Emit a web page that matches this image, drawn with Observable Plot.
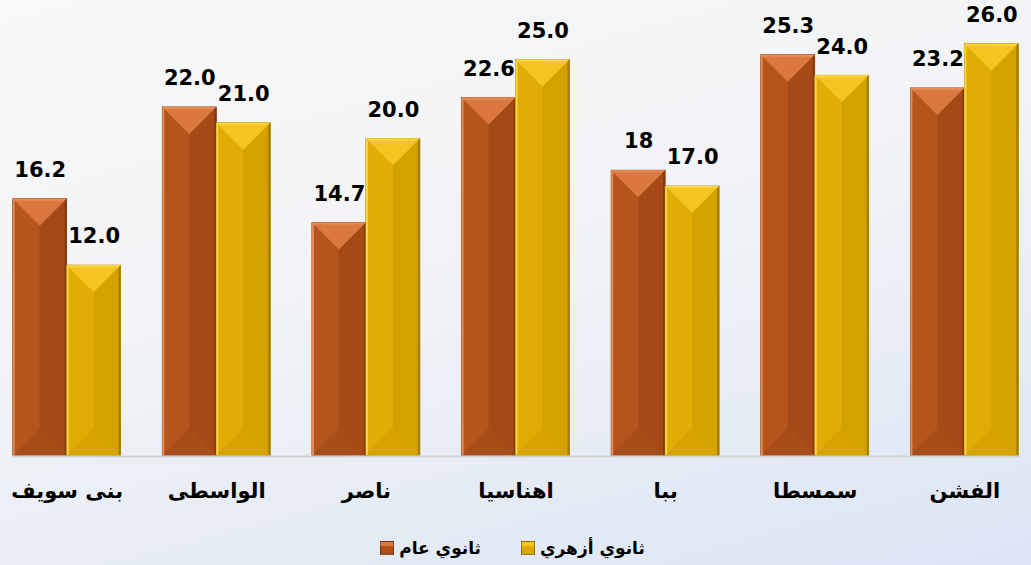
<!DOCTYPE html>
<html>
<head>
<meta charset="utf-8">
<script src="https://cdn.jsdelivr.net/npm/d3@7"></script>
<script src="https://cdn.jsdelivr.net/npm/@observablehq/plot@0.6"></script>
<style>
  html, body { margin: 0; padding: 0; }
  body {
    width: 1031px; height: 565px; overflow: hidden;
    background: linear-gradient(165deg, #f8f8f8 0%, #f1f3f6 45%, #dbe5f4 100%);
    font-family: "DejaVu Sans", "Noto Sans", sans-serif;
  }
  #chart svg { display: block; }
  #legend {
    display: flex; justify-content: center; align-items: center; gap: 40px;
    direction: ltr; height: 45px; margin-top: 5px; padding-right: 6px;
    font-weight: bold; font-size: 17px; color: #000;
  }
  .item { display: flex; align-items: center; gap: 5px; }
  .sw { width: 12px; height: 12px; border: 1px solid rgba(0,0,0,0.35); }
</style>
</head>
<body>
<div id="chart"></div>
<div id="legend"></div>
<script>
const categories = ["بنى سويف", "الواسطى", "ناصر", "اهناسيا", "ببا", "سمسطا", "الفشن"];
const seriesNames = ["ثانوي عام", "ثانوي أزهري"];
const generalValues = [16.2, 22.0, 14.7, 22.6, 18, 25.3, 23.2];
const azhariValues = [12.0, 21.0, 20.0, 25.0, 17.0, 24.0, 26.0];
const generalLabels = ["16.2", "22.0", "14.7", "22.6", "18", "25.3", "23.2"];
const azhariLabels = ["12.0", "21.0", "20.0", "25.0", "17.0", "24.0", "26.0"];
const seriesColors = ["#b0521b", "#dca806"];

// shading palettes per series: left, right, top, bottom, edge, highlight
const palettes = {
  "ثانوي عام": {L: "#b5541c", R: "#a54a16", T: "#db7840", B: "#a94d18", E: "#84390f", H: "#e58c58"},
  "ثانوي أزهري": {L: "#e2ac06", R: "#d4a200", T: "#f4c521", B: "#d7a300", E: "#a07c00", H: "#fad545"}
};

const rows = [];
categories.forEach((c, i) => {
  rows.push({category: c, series: seriesNames[0], value: generalValues[i], label: generalLabels[i]});
  rows.push({category: c, series: seriesNames[1], value: azhariValues[i], label: azhariLabels[i]});
});

const NS = "http://www.w3.org/2000/svg";
function poly(g, pts, fill) {
  const p = document.createElementNS(NS, "polygon");
  p.setAttribute("points", pts.map(q => q.join(",")).join(" "));
  p.setAttribute("fill", fill);
  g.appendChild(p);
}

function bevel(index, scales, values, dimensions, context, next) {
  const g = next(index, scales, values, dimensions, context);
  const rects = Array.from(g.querySelectorAll("rect"));
  rects.forEach((r, k) => {
    const d = rows[index[k]];
    const p = palettes[d.series];
    const x = +r.getAttribute("x"), y = +r.getAttribute("y");
    const w = +r.getAttribute("width"), h = +r.getAttribute("height");
    const parent = r.parentNode;
    const sub = document.createElementNS(NS, "g");
    const dep = Math.min(w / 2, h / 2);
    r.setAttribute("fill", p.L);
    r.setAttribute("stroke", p.E);
    r.setAttribute("stroke-width", 0.8);
    poly(sub, [[x + w / 2, y], [x + w, y], [x + w, y + h], [x + w / 2, y + h]], p.R);
    poly(sub, [[x, y + h], [x + w, y + h], [x + w / 2, y + h - dep]], p.B);
    poly(sub, [[x, y], [x + w, y], [x + w / 2, y + dep]], p.T);
    poly(sub, [[x, y], [x + w, y], [x + w - 2, y + 2], [x + 2, y + 2]], p.H);
    poly(sub, [[x, y], [x + 2, y + 2], [x + 2, y + h], [x, y + h]], p.H);
    poly(sub, [[x + w, y], [x + w - 2, y + 2], [x + w - 2, y + h], [x + w, y + h]], p.E);
    parent.insertBefore(sub, r.nextSibling);
  });
  return g;
}

const chart = Plot.plot({
  width: 1031,
  height: 520,
  marginLeft: 0,
  marginRight: 0,
  marginTop: 12,
  marginBottom: 65,
  style: {background: "transparent", overflow: "visible", fontFamily: "DejaVu Sans, sans-serif"},
  fx: {domain: categories, paddingInner: 0.2786, paddingOuter: 0.0848, round: false, label: null},
  x: {domain: seriesNames, padding: 0, round: false, axis: null},
  y: {domain: [0, 28], axis: null},
  color: {domain: seriesNames, range: seriesColors},
  marks: [
    Plot.frame({anchor: "bottom", facet: "super", stroke: "#d2d2d2", strokeWidth: 2, dy: 1}),
    Plot.barY(rows, {fx: "category", x: "series", y: "value", fill: "series", render: bevel}),
    Plot.text(rows, {fx: "category", x: "series", y: "value", text: "label", dy: -29,
      fontSize: 21, fontWeight: "bold", fill: "#000"}),
    Plot.axisFx({anchor: "bottom", tickSize: 0, tickPadding: 28, fontSize: 21, fontWeight: "bold",
      label: null, fill: "#000"})
  ]
});
document.getElementById("chart").appendChild(chart);

const legend = document.getElementById("legend");
seriesNames.forEach((s, i) => {
  const item = document.createElement("div");
  item.className = "item";
  const sw = document.createElement("div");
  sw.className = "sw";
  const p = palettes[s];
  sw.style.background = `linear-gradient(180deg, ${p.T} 0%, ${p.T} 35%, ${p.L} 36%, ${p.R} 100%)`;
  const t = document.createElement("span");
  t.textContent = s;
  item.appendChild(sw);
  item.appendChild(t);
  legend.appendChild(item);
});
</script>
</body>
</html>
